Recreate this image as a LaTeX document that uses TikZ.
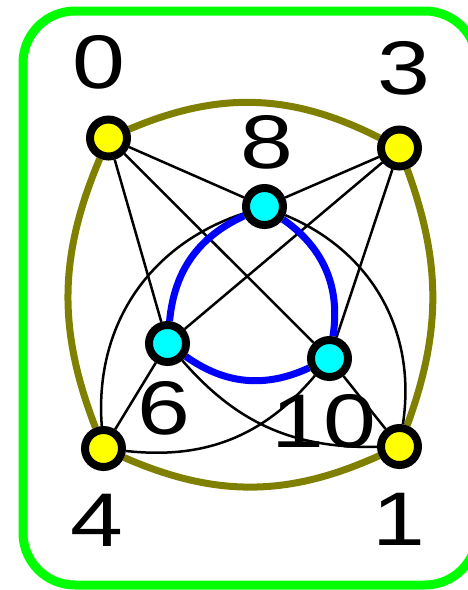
\documentclass[tikz,border=0pt]{standalone}
\usepackage{fontspec}
\setmainfont{Liberation Sans}
\usetikzlibrary{backgrounds}
\definecolor{olivec}{RGB}{128,128,0}
\definecolor{greenc}{RGB}{0,255,0}
\definecolor{cyanc}{RGB}{0,255,255}
\definecolor{yellowc}{RGB}{255,255,0}
\definecolor{bluec}{RGB}{0,0,255}
\begin{document}
\begin{tikzpicture}[x=1pt,y=-1pt,
 vert/.style={circle,draw=black,line width=8pt,minimum size=37pt,inner sep=0pt},
 outv/.style={vert,fill=yellowc},
 inv/.style={vert,fill=cyanc},
 lbl/.style={inner sep=0pt,font=\fontsize{76}{76}\selectfont},
 rim/.style={draw=olivec,line width=7pt},
 tri/.style={draw=bluec,line width=7pt},
 link/.style={draw=black,line width=2.5pt}]
\useasboundingbox (0,0) rectangle (467,590);
\draw[greenc,line width=9pt,rounded corners=52pt] (23,11) rectangle (477,585);
% vertices
\node[outv] (v0) at (108.5,138) {};
\node[outv] (v3) at (399.5,148) {};
\node[inv]  (v8) at (264.5,206.5) {};
\node[inv]  (v6) at (167.5,343.5) {};
\node[inv]  (v10) at (329.5,358.5) {};
\node[outv] (v4) at (103.5,448.5) {};
\node[outv] (v1) at (399.5,446.5) {};
% labels
\node[lbl] (l0) at (99,62) {\scalebox{1.25}[1]{0}};
\node[lbl] (l3) at (404,68) {\scalebox{1.25}[1]{3}};
\node[lbl] (l8) at (267,142) {\scalebox{1.25}[1]{8}};
\node[lbl] (l6) at (164,408) {\scalebox{1.25}[1]{6}};
\node[lbl] (l10) at (324,421) {\scalebox{1.25}[1]{10}};
\node[lbl] (l4) at (97,520) {\scalebox{1.25}[1]{4}};
\node[lbl] (l1) at (399,519) {\scalebox{1.25}[1]{1}};
\begin{scope}[on background layer]
 \draw[rim] (v0) to[bend left=25] (v3);
 \draw[rim] (v3) to[bend left=20] (v1);
 \draw[rim] (v1) to[bend left=24] (v4);
 \draw[rim] (v4) to[bend left=22] (v0);
 \draw[link] (v0) -- (v8);
 \draw[link] (v0) -- (v6);
 \draw[link] (v0) -- (v10);
 \draw[link] (v3) -- (v8);
 \draw[link] (v3) -- (v6);
 \draw[link] (v3) -- (v10);
 \draw[link] (v4) -- (v6);
 \draw[link] (v1) -- (v10);
 \draw[link] (v4) to[bend right=28] (v10);
 \draw[link] (v6) to[bend right=25] (v1);
 \draw[link] (v4) to[bend left=38] (v8);
 \draw[link] (v1) to[bend right=38] (v8);
 \draw[tri] (v8) to[bend right=30] (v6);
 \draw[tri] (v8) to[bend left=32] (v10);
 \draw[tri] (v6) to[bend right=30] (v10);
\end{scope}
\end{tikzpicture}
\end{document}
